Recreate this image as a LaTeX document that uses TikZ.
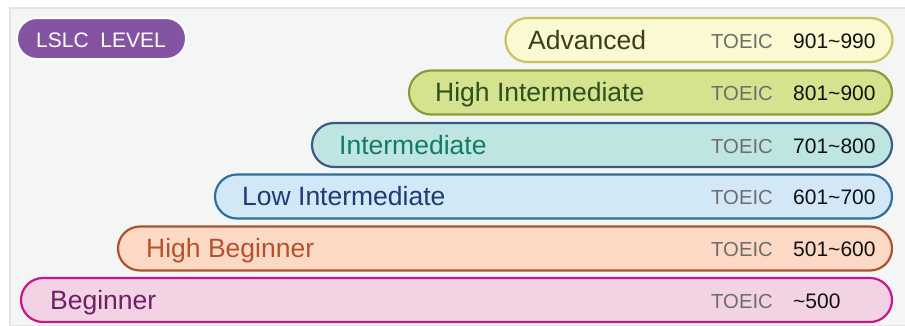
\documentclass[tikz,border=0pt]{standalone}
\usepackage{fontspec}
\setmainfont{Liberation Sans}
\definecolor{bgfill}{HTML}{F4F6F5}
\definecolor{bgline}{HTML}{E3E5E4}
\definecolor{lslc}{HTML}{8453A1}
\definecolor{advF}{HTML}{FBF9D1}\definecolor{advD}{HTML}{C9C163}\definecolor{advT}{HTML}{3B3E1E}
\definecolor{hiF}{HTML}{D5E38F}\definecolor{hiD}{HTML}{8C9B3A}\definecolor{hiT}{HTML}{2E4F1F}
\definecolor{inF}{HTML}{BFE5E3}\definecolor{inD}{HTML}{3C5B82}\definecolor{inT}{HTML}{137A66}
\definecolor{liF}{HTML}{D2E8F6}\definecolor{liD}{HTML}{2F6E9D}\definecolor{liT}{HTML}{1F3B74}
\definecolor{hbF}{HTML}{FCD9C5}\definecolor{hbD}{HTML}{A9532E}\definecolor{hbT}{HTML}{B4532B}
\definecolor{bgnF}{HTML}{F3D2E4}\definecolor{bgnD}{HTML}{C8178C}\definecolor{bgnT}{HTML}{6E1F66}
\definecolor{toeic}{HTML}{6E6E6E}
\definecolor{score}{HTML}{111111}
\tikzset{
  pill/.style={draw, line width=2.2pt, rounded corners=22pt, minimum height=44pt, inner sep=0pt},
  lvltext/.style={anchor=base west, inner sep=0pt, font=\fontsize{26.5}{30}\selectfont},
  toeictext/.style={anchor=base west, inner sep=0pt, text=toeic, font=\fontsize{20.3}{24}\selectfont},
  scoretext/.style={anchor=base west, inner sep=0pt, text=score, font=\fontsize{21}{25}\selectfont},
}
\begin{document}
\begin{tikzpicture}[x=1pt,y=-1pt]
\useasboundingbox (0,0) rectangle (905,325);
\fill[white] (0,0) rectangle (905,325);
\draw[bgline, fill=bgfill, line width=2pt] (10,8) rectangle (906,326);
% header
\node[draw=white, fill=lslc, line width=2pt, rounded corners=20pt, minimum width=169pt, minimum height=41pt, inner sep=0pt] (hdr) at (101.5,38.5) {};
\node[anchor=base west, inner sep=0pt, text=white, font=\fontsize{21}{25}\selectfont] (hdrt) at (36,47) {LSLC\ \ LEVEL};
% Advanced
\node[pill, fill=advF, draw=advD, minimum width=387pt] (adv) at (699,40) {};
\node[lvltext, text=advT] (advl) at (528,49) {Advanced};
\node[toeictext] (advk) at (711,48) {TOEIC};
\node[scoretext] (advs) at (793,48) {901\textasciitilde990};
% High Intermediate
\node[pill, fill=hiF, draw=hiD, minimum width=483pt] (hi) at (650.5,92.5) {};
\node[lvltext, text=hiT] (hil) at (435,101.5) {High Intermediate};
\node[toeictext] (hik) at (711,100.5) {TOEIC};
\node[scoretext] (his) at (793,100.5) {801\textasciitilde900};
% Intermediate
\node[pill, fill=inF, draw=inD, minimum width=580pt] (in) at (602,145) {};
\node[lvltext, text=inT] (inl) at (339,154) {Intermediate};
\node[toeictext] (ink) at (711,153) {TOEIC};
\node[scoretext] (ins) at (793,153) {701\textasciitilde800};
% Low Intermediate
\node[pill, fill=liF, draw=liD, minimum width=677pt] (li) at (553.5,196.5) {};
\node[lvltext, text=liT] (lil) at (242,205.5) {Low Intermediate};
\node[toeictext] (lik) at (711,204.5) {TOEIC};
\node[scoretext] (lis) at (793,204.5) {601\textasciitilde700};
% High Beginner
\node[pill, fill=hbF, draw=hbD, minimum width=774pt] (hb) at (505,248.5) {};
\node[lvltext, text=hbT] (hbl) at (146,257.5) {High Beginner};
\node[toeictext] (hbk) at (711,256.5) {TOEIC};
\node[scoretext] (hbs) at (793,256.5) {501\textasciitilde600};
% Beginner
\node[pill, fill=bgnF, draw=bgnD, minimum width=871pt] (bgn) at (456.5,300) {};
\node[lvltext, text=bgnT] (bgnl) at (50,309) {Beginner};
\node[toeictext] (bgnk) at (711,308) {TOEIC};
\node[scoretext] (bgns) at (793,308) {\textasciitilde500};
\end{tikzpicture}
\end{document}
